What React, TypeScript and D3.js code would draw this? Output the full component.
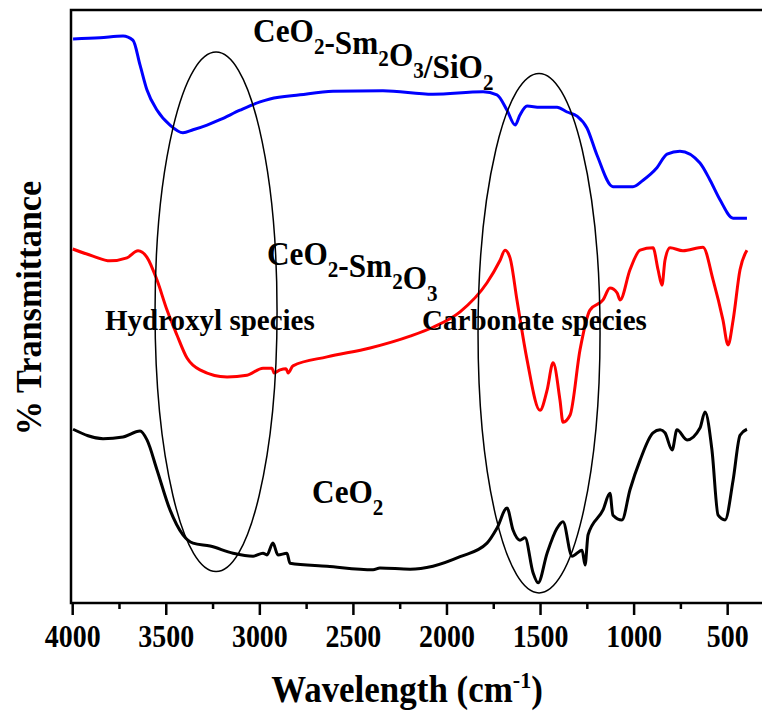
import React, { useEffect, useRef } from 'react';
import * as d3 from 'd3';

// wavenumber (cm-1), relative transmittance (arbitrary units, 0-100)
const ceo2SmSiO2: [number, number][] = [
  [3998, 95.1], [3854, 95.3], [3731, 95.6], [3678, 94.9], [3640, 90.7], [3603, 86.5],
  [3549, 83.1], [3480, 80.6], [3411, 79.3], [3357, 79.8], [3282, 80.6], [3213, 81.5],
  [3106, 83.1], [2999, 84.5], [2946, 85.0], [2785, 85.7], [2609, 86.3], [2342, 86.4],
  [2075, 85.8], [1807, 86.2], [1733, 85.7], [1679, 83.1], [1636, 80.6], [1610, 82.3],
  [1572, 83.8], [1503, 83.6], [1412, 83.6], [1358, 82.8], [1305, 82.1], [1252, 80.1],
  [1198, 75.5], [1113, 70.2], [1006, 70.2], [952, 71.3], [878, 73.4], [824, 75.7],
  [755, 76.2], [648, 74.2], [594, 71.3], [541, 68.0], [471, 64.9], [397, 64.9],
];

const ceo2Sm: [number, number][] = [
  [4000, 59.7], [3892, 58.5], [3801, 57.7], [3710, 58.2], [3651, 59.4], [3603, 58.3],
  [3550, 54.5], [3496, 49.4], [3443, 45.2], [3389, 41.3], [3320, 39.3], [3175, 38.1],
  [3069, 38.4], [2983, 39.6], [2935, 39.6], [2924, 38.8], [2892, 39.3], [2860, 39.5],
  [2849, 38.8], [2823, 40.0], [2641, 41.5], [2411, 43.0], [2197, 45.0], [2075, 46.5],
  [1930, 49.1], [1786, 54.0], [1716, 57.8], [1690, 59.5], [1663, 58.2], [1626, 51.1],
  [1572, 41.0], [1503, 32.5], [1465, 35.9], [1433, 40.5], [1396, 34.2], [1380, 30.5],
  [1342, 31.7], [1289, 42.7], [1236, 49.4], [1166, 51.1], [1129, 53.1], [1091, 52.3],
  [1075, 51.1], [1022, 56.2], [968, 59.5], [899, 59.9], [872, 56.2], [851, 53.6],
  [835, 57.8], [808, 59.9], [739, 59.4], [632, 60.0], [578, 54.5], [525, 47.7],
  [498, 43.5], [471, 47.7], [434, 56.2], [397, 59.5],
];

const ceo2: [number, number][] = [
  [3998, 29.3], [3838, 27.7], [3731, 28.0], [3640, 29.0], [3603, 27.5], [3549, 22.4],
  [3480, 15.7], [3411, 11.5], [3357, 10.1], [3266, 9.6], [3143, 8.4], [3036, 7.9],
  [2983, 8.4], [2962, 8.1], [2930, 10.1], [2903, 8.1], [2855, 8.4], [2839, 6.7],
  [2641, 6.2], [2395, 5.6], [2358, 5.9], [2197, 5.7], [2075, 6.2], [1930, 7.8],
  [1786, 10.1], [1733, 12.6], [1679, 16.0], [1647, 12.3], [1610, 10.6], [1583, 11.0],
  [1540, 5.1], [1513, 3.4], [1465, 8.4], [1412, 12.6], [1380, 13.7], [1332, 7.9],
  [1278, 8.9], [1262, 6.4], [1246, 11.5], [1166, 15.7], [1129, 18.5], [1113, 14.8],
  [1065, 14.0], [1022, 19.1], [968, 24.1], [899, 28.7], [861, 29.2], [835, 28.7],
  [797, 25.8], [771, 29.2], [717, 27.5], [648, 29.5], [621, 32.2], [584, 25.8],
  [551, 14.8], [514, 14.0], [471, 20.7], [434, 28.3], [397, 29.3],
];

const series = [
  { name: 'CeO2-Sm2O3/SiO2', color: '#0000ff', data: ceo2SmSiO2 },
  { name: 'CeO2-Sm2O3', color: '#ff0000', data: ceo2Sm },
  { name: 'CeO2', color: '#000000', data: ceo2 },
];

const majorTicks = [4000, 3500, 3000, 2500, 2000, 1500, 1000, 500];
const minorTicks = [3750, 3250, 2750, 2250, 1750, 1250, 750];

// labels: text parts (main, subscript), anchor wavenumber, anchor transmittance
const compoundLabels = [
  { parts: [['CeO', '2'], ['-Sm', '2'], ['O', '3'], ['/SiO', '2']], w: 3036, t: 94.6 },
  { parts: [['CeO', '2'], ['-Sm', '2'], ['O', '3']], w: 2962, t: 57.0 },
  { parts: [['CeO', '2']], w: 2721, t: 16.9 },
];
const speciesLabels = [
  { text: 'Hydroxyl species', w: 3827, t: 46.0 },
  { text: 'Carbonate species', w: 2133, t: 46.0 },
];
// ellipses: centre wavenumber, centre transmittance, half width (cm-1), half height
const regions = [
  { w: 3234, t: 49.1, rw: 326, rt: 43.8 },
  { w: 1508, t: 45.5, rw: 326, rt: 43.8 },
];

const FONT = "'Liberation Serif', 'Times New Roman', serif";

const App = () => {
  const ref = useRef<SVGSVGElement>(null);

  useEffect(() => {
    const svg = d3.select(ref.current);
    svg.selectAll('*').remove();

    const x = d3.scaleLinear().domain([4000, 300]).range([72.7, 765.1]);
    const y = d3.scaleLinear().domain([0, 100]).range([603, 10]);

    // frame
    svg.append('rect')
      .attr('x', 71).attr('y', 10)
      .attr('width', 700).attr('height', 593)
      .attr('fill', 'none').attr('stroke', '#000').attr('stroke-width', 2.5);

    // bottom axis
    const axis = svg.append('g').attr('transform', 'translate(0,603)');
    axis.selectAll('line.major').data(majorTicks).join('line')
      .attr('class', 'major')
      .attr('x1', d => x(d)).attr('x2', d => x(d))
      .attr('y1', 0).attr('y2', 12)
      .attr('stroke', '#000').attr('stroke-width', 2.5);
    axis.selectAll('line.minor').data(minorTicks).join('line')
      .attr('class', 'minor')
      .attr('x1', d => x(d)).attr('x2', d => x(d))
      .attr('y1', 0).attr('y2', 6)
      .attr('stroke', '#000').attr('stroke-width', 2.5);
    axis.selectAll('text').data(majorTicks).join('text')
      .attr('transform', d => `translate(${x(d)},44) scale(0.9,1)`)
      .attr('text-anchor', 'middle')
      .style('font-family', FONT).style('font-weight', 'bold').style('font-size', '31px')
      .text(d => d);

    // axis titles
    const xt = svg.append('text')
      .attr('transform', 'translate(407,702) scale(0.92,1)')
      .attr('text-anchor', 'middle')
      .style('font-family', FONT).style('font-weight', 'bold').style('font-size', '38px');
    xt.append('tspan').text('Wavelength (cm');
    xt.append('tspan').attr('dy', -14).style('font-size', '24px').text('-1');
    xt.append('tspan').attr('dy', 14).text(')');

    svg.append('text')
      .attr('transform', 'translate(41,308) rotate(-90) scale(0.95,1)')
      .attr('text-anchor', 'middle')
      .style('font-family', FONT).style('font-weight', 'bold').style('font-size', '36px')
      .text('% Transmittance');

    // spectra
    const line = d3.line<[number, number]>()
      .x(d => x(d[0]))
      .y(d => y(d[1]))
      .curve(d3.curveMonotoneX);

    svg.selectAll('path.spec').data(series).join('path')
      .attr('class', 'spec')
      .attr('d', d => line(d.data))
      .attr('fill', 'none')
      .attr('stroke', d => d.color)
      .attr('stroke-width', 3)
      .attr('stroke-linejoin', 'round');

    // region ellipses
    svg.selectAll('ellipse').data(regions).join('ellipse')
      .attr('cx', d => x(d.w)).attr('cy', d => y(d.t))
      .attr('rx', d => x(d.w - d.rw) - x(d.w))
      .attr('ry', d => y(d.t - d.rt) - y(d.t))
      .attr('fill', 'none').attr('stroke', '#000').attr('stroke-width', 1.5);

    // labels
    speciesLabels.forEach(l => {
      svg.append('text')
        .attr('x', x(l.w)).attr('y', y(l.t))
        .style('font-family', FONT).style('font-weight', 'bold').style('font-size', '29px')
        .text(l.text);
    });

    compoundLabels.forEach(l => {
      const t = svg.append('text')
        .attr('transform', `translate(${x(l.w)},${y(l.t)}) scale(0.92,1)`)
        .style('font-family', FONT).style('font-weight', 'bold').style('font-size', '34px');
      l.parts.forEach(([main, sub]) => {
        t.append('tspan').text(main);
        t.append('tspan').attr('dy', 12).style('font-size', '23px').text(sub);
        t.append('tspan').attr('dy', -12).text('');
      });
    });
  }, []);

  return (
    <svg
      ref={ref}
      width={762}
      height={714}
      style={{ position: 'absolute', left: 0, top: 0, background: '#fff' }}
    />
  );
};

export default App;
